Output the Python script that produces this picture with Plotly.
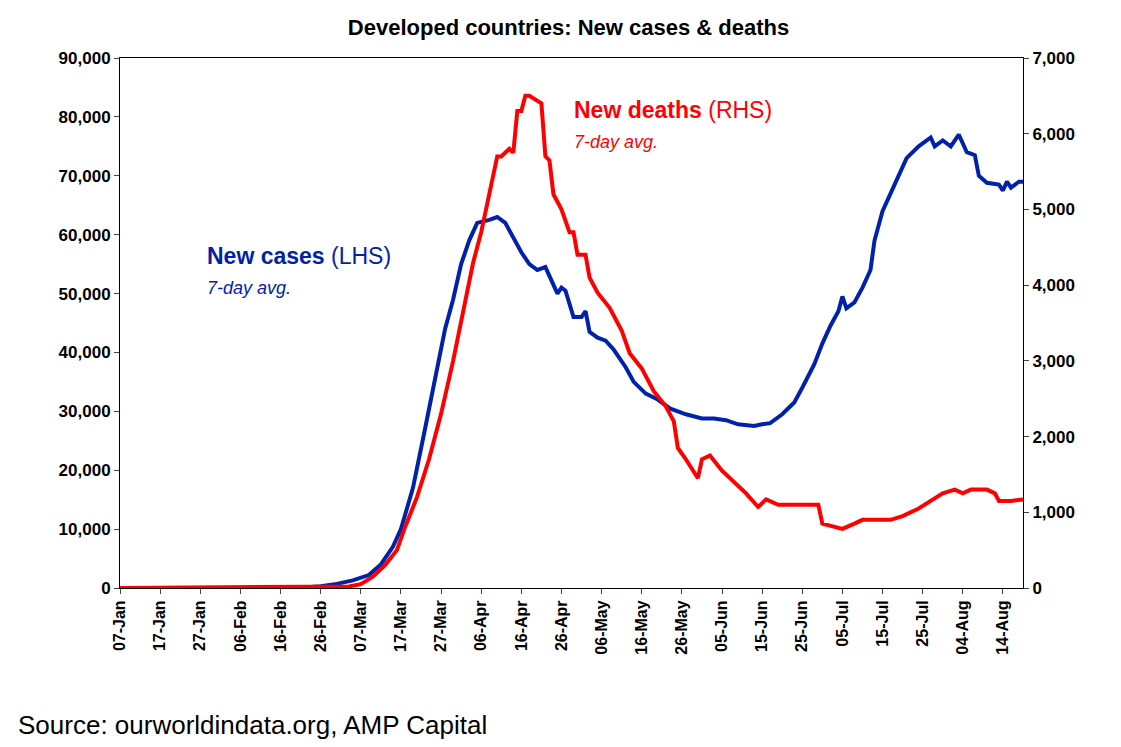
import plotly.graph_objects as go
import pandas as pd

case_dates = ["2020-01-07","2020-02-20","2020-02-26","2020-03-01","2020-03-05","2020-03-09","2020-03-12","2020-03-15","2020-03-17","2020-03-20","2020-03-23","2020-03-26","2020-03-28","2020-03-30","2020-04-01","2020-04-03","2020-04-05","2020-04-08","2020-04-10","2020-04-12","2020-04-14","2020-04-16","2020-04-18","2020-04-20","2020-04-22","2020-04-24","2020-04-25","2020-04-26","2020-04-27","2020-04-29","2020-05-01","2020-05-02","2020-05-03","2020-05-05","2020-05-07","2020-05-09","2020-05-12","2020-05-14","2020-05-17","2020-05-20","2020-05-23","2020-05-27","2020-05-31","2020-06-03","2020-06-06","2020-06-09","2020-06-13","2020-06-15","2020-06-17","2020-06-20","2020-06-23","2020-06-25","2020-06-28","2020-06-30","2020-07-02","2020-07-04","2020-07-05","2020-07-06","2020-07-08","2020-07-10","2020-07-12","2020-07-13","2020-07-15","2020-07-18","2020-07-21","2020-07-24","2020-07-27","2020-07-28","2020-07-30","2020-08-01","2020-08-03","2020-08-05","2020-08-07","2020-08-08","2020-08-10","2020-08-13","2020-08-14","2020-08-15","2020-08-16","2020-08-18","2020-08-19"]
case_vals = [0,0,300,700,1300,2200,4000,7000,10000,17000,27000,37000,44000,49000,55000,59000,62000,62500,63000,62000,59500,57000,55000,54000,54500,51500,50000,51000,50500,46000,46000,47000,43500,42500,42000,40500,37500,35000,33000,32000,30500,29500,28800,28800,28500,27800,27500,27800,28000,29500,31500,34000,38000,41500,44500,47000,49500,47500,48500,51000,54000,59000,64000,68500,73000,75000,76500,75000,76000,75000,77000,74000,73500,70000,68800,68500,67500,69000,68000,69000,69000]

death_dates = ["2020-01-07","2020-03-04","2020-03-07","2020-03-10","2020-03-13","2020-03-16","2020-03-18","2020-03-21","2020-03-24","2020-03-27","2020-03-30","2020-04-02","2020-04-04","2020-04-06","2020-04-08","2020-04-10","2020-04-11","2020-04-13","2020-04-14","2020-04-15","2020-04-16","2020-04-17","2020-04-18","2020-04-21","2020-04-22","2020-04-23","2020-04-24","2020-04-26","2020-04-28","2020-04-29","2020-04-30","2020-05-02","2020-05-03","2020-05-05","2020-05-08","2020-05-11","2020-05-13","2020-05-16","2020-05-19","2020-05-22","2020-05-24","2020-05-25","2020-05-27","2020-05-30","2020-05-31","2020-06-02","2020-06-05","2020-06-08","2020-06-11","2020-06-14","2020-06-16","2020-06-19","2020-06-23","2020-06-26","2020-06-29","2020-06-30","2020-07-03","2020-07-05","2020-07-08","2020-07-10","2020-07-13","2020-07-17","2020-07-20","2020-07-24","2020-07-27","2020-07-30","2020-08-02","2020-08-04","2020-08-06","2020-08-10","2020-08-12","2020-08-13","2020-08-16","2020-08-19"]
death_vals = [0,20,50,150,300,500,800,1200,1700,2300,3000,3800,4300,4700,5200,5700,5700,5800,5750,6300,6300,6500,6500,6400,5700,5650,5200,5000,4700,4700,4400,4400,4100,3900,3700,3400,3100,2900,2600,2400,2200,1850,1700,1450,1700,1750,1550,1400,1250,1070,1170,1100,1100,1100,1100,850,800,780,850,900,900,900,950,1050,1150,1250,1300,1250,1300,1300,1250,1150,1150,1170]

tick_dates = pd.date_range("2020-01-07", "2020-08-14", freq="10D")
tick_labels = [d.strftime("%d-%b") for d in tick_dates]

fig = go.Figure()
fig.add_trace(go.Scatter(x=case_dates, y=case_vals, mode="lines", line=dict(color="#0022AA", width=4), yaxis="y"))
fig.add_trace(go.Scatter(x=death_dates, y=death_vals, mode="lines", line=dict(color="#FF0000", width=4), yaxis="y2"))

fnt = dict(family="Liberation Sans, Arial", size=17, color="black", weight="bold")
fig.update_layout(
    width=1121, height=747, showlegend=False, plot_bgcolor="white", paper_bgcolor="white",
    margin=dict(l=112, r=106, t=50, b=167, autoexpand=False),
    title=dict(text="<b>Developed countries: New cases & deaths</b>", x=0.5, xanchor="center", y=0.985, font=dict(family="Liberation Sans, Arial", size=22, color="black")),
    xaxis=dict(range=["2020-01-07", "2020-08-19"], tickvals=tick_dates, ticktext=tick_labels, tickangle=-90,
               tickfont=dict(family="Liberation Sans, Arial", size=16, color="black", weight="bold"), showgrid=False,
               showline=True, linecolor="black", mirror=True, ticks="outside", ticklen=5, automargin=False),
    yaxis=dict(range=[0, 90000], dtick=10000, tickformat=",", tickfont=fnt, showgrid=False,
               showline=True, linecolor="black", ticks="outside", ticklen=5, automargin=False),
    yaxis2=dict(range=[0, 7000], dtick=1000, tickformat=",", tickfont=fnt, overlaying="y", side="right",
                showgrid=False, showline=True, linecolor="black", ticks="outside", ticklen=5, automargin=False),
)
fig.add_annotation(xref="paper", yref="paper", x=0.094, y=0.60, xanchor="left", showarrow=False, align="left",
    text="<b>New cases</b> (LHS)<br><i><span style='font-size:18px'>7-day avg.</span></i>",
    font=dict(family="Liberation Sans, Arial", size=23, color="#0022AA"))
fig.add_annotation(xref="paper", yref="paper", x=0.50, y=0.93, xanchor="left", showarrow=False, align="left",
    text="<b>New deaths</b> (RHS)<br><i><span style='font-size:18px'>7-day avg.</span></i>",
    font=dict(family="Liberation Sans, Arial", size=23, color="#FF0000"))
fig.add_annotation(xref="paper", yref="paper", x=-0.115, y=-0.29, xanchor="left", showarrow=False,
    text="Source: ourworldindata.org, AMP Capital", font=dict(family="Liberation Sans, Arial", size=26, color="black"))
fig.write_html("out.html")
